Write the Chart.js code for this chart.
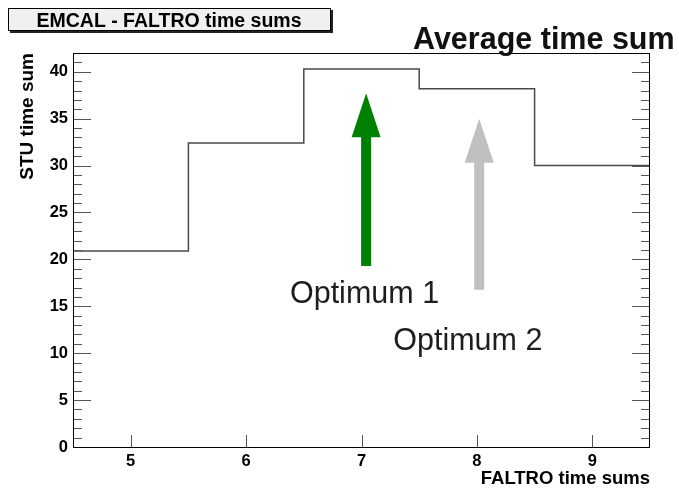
<!DOCTYPE html>
<html>
<head>
<meta charset="utf-8">
<script src="https://cdn.jsdelivr.net/npm/chart.js@4/dist/chart.umd.min.js"></script>
<style>
  html, body { margin: 0; padding: 0; background: #ffffff; }
  #wrap { width: 679px; height: 489px; position: relative; }
  canvas { display: block; }
</style>
</head>
<body>
<div id="wrap"><canvas id="c" width="679" height="489"></canvas></div>
<script>
// ---- data ----
const binEdges = [4.5, 5.5, 6.5, 7.5, 8.5, 9.5];
const binValues = [20.9, 32.4, 40.3, 38.2, 30.0];
const xTickValues = [5, 6, 7, 8, 9];
const yTickValues = [0, 5, 10, 15, 20, 25, 30, 35, 40];
const yMinorStep = 1;
const xRange = [4.5, 9.5];
const yRange = [0, 42];
// arrows (data coordinates)
const arrowLabels = ['Optimum 1', 'Optimum 2'];
const arrowX = [7.04, 8.02];
const arrowFrom = [19.3, 16.75];
const arrowTo = [37.7, 35.0];
const labelX = [6.38, 7.275];
const labelY = [15.4, 10.35];
const chartTitle = 'EMCAL - FALTRO time sums';
const subTitle = 'Average time sum';
const xTitle = 'FALTRO time sums';
const yTitle = 'STU time sum';

const points = binEdges.map((e, i) => ({ x: e, y: binValues[Math.min(i, binValues.length - 1)] }));

const arrowColors = ['#008000', '#c0c0c0'];
const FONT = '"Liberation Sans", Arial, Helvetica, sans-serif';

const decor = {
  id: 'decor',
  afterDatasetsDraw(chart) {
    const ctx = chart.ctx;
    const xs = chart.scales.x, ys = chart.scales.y;
    const a = chart.chartArea;
    ctx.save();
    // minor/major ticks inside frame
    ctx.strokeStyle = '#555555';
    ctx.lineWidth = 1;
    ctx.beginPath();
    for (let v = yRange[0]; v <= yRange[1] + 1e-9; v += yMinorStep) {
      const py = Math.round(ys.getPixelForValue(v)) + 0.5;
      const major = yTickValues.includes(v);
      const len = major ? 18 : 9;
      ctx.moveTo(a.left, py); ctx.lineTo(a.left + len, py);
      ctx.moveTo(a.right, py); ctx.lineTo(a.right - len, py);
    }
    xTickValues.forEach(v => {
      const px = Math.round(xs.getPixelForValue(v)) + 0.5;
      ctx.moveTo(px, a.bottom); ctx.lineTo(px, a.bottom - 12);
    });
    ctx.stroke();
    // frame
    ctx.strokeStyle = '#000000';
    ctx.lineWidth = 1;
    ctx.strokeRect(Math.round(a.left) + 0.5, Math.round(a.top) + 0.5,
      Math.round(a.right - a.left) - 1, Math.round(a.bottom - a.top));
    // arrows
    arrowX.forEach((xv, i) => {
      const px = xs.getPixelForValue(xv);
      const pb = ys.getPixelForValue(arrowFrom[i]);
      const pt = ys.getPixelForValue(arrowTo[i]);
      const headLen = 44, headHalf = 14.5, shaftHalf = 5;
      ctx.fillStyle = arrowColors[i];
      ctx.beginPath();
      ctx.moveTo(px - shaftHalf, pb);
      ctx.lineTo(px - shaftHalf, pt + headLen);
      ctx.lineTo(px - headHalf, pt + headLen);
      ctx.lineTo(px, pt);
      ctx.lineTo(px + headHalf, pt + headLen);
      ctx.lineTo(px + shaftHalf, pt + headLen);
      ctx.lineTo(px + shaftHalf, pb);
      ctx.closePath();
      ctx.fill();
    });
    // arrow labels
    ctx.fillStyle = '#1e1e1e';
    ctx.font = '30.5px ' + FONT;
    ctx.textAlign = 'left';
    ctx.textBaseline = 'alphabetic';
    arrowLabels.forEach((t, i) => {
      ctx.fillText(t, xs.getPixelForValue(labelX[i]), ys.getPixelForValue(labelY[i]));
    });
    ctx.restore();
  },
  afterDraw(chart) {
    const ctx = chart.ctx;
    ctx.save();
    // title box with shadow
    ctx.fillStyle = '#222222';
    ctx.fillRect(10, 10, 323, 23);
    ctx.fillStyle = '#f0f0f0';
    ctx.fillRect(8, 8, 323, 23);
    ctx.strokeStyle = '#000000';
    ctx.lineWidth = 1;
    ctx.strokeRect(8.5, 8.5, 322, 22);
    ctx.fillStyle = '#000000';
    ctx.font = 'bold 19.5px ' + FONT;
    ctx.textAlign = 'center';
    ctx.textBaseline = 'alphabetic';
    ctx.fillText(chartTitle, 169, 27);
    // subtitle
    ctx.font = 'bold 30.5px ' + FONT;
    ctx.textAlign = 'left';
    ctx.fillStyle = '#111111';
    ctx.fillText(subTitle, 413, 49);
    ctx.restore();
  }
};

new Chart(document.getElementById('c'), {
  type: 'line',
  data: {
    datasets: [{
      data: points,
      stepped: 'before',
      borderColor: '#4a4a4a',
      borderWidth: 1.5,
      pointRadius: 0,
      fill: false
    }]
  },
  options: {
    responsive: false,
    animation: false,
    devicePixelRatio: 1,
    layout: { padding: { left: 0, top: 53, right: 29, bottom: 0 } },
    plugins: { legend: { display: false }, tooltip: { enabled: false }, title: { display: false } },
    scales: {
      x: {
        type: 'linear',
        min: xRange[0], max: xRange[1],
        afterFit: s => { s.height = 42; },
        afterBuildTicks: s => { s.ticks = xTickValues.map(v => ({ value: v })); },
        grid: { display: false, drawTicks: false },
        border: { display: false },
        ticks: { padding: 5, color: '#000', font: { family: FONT, size: 16.5, weight: 'bold' }, maxRotation: 0 },
        title: { display: true, text: xTitle, align: 'end', color: '#000',
                 font: { family: FONT, size: 18.5, weight: 'bold' }, padding: { top: 0, bottom: -1 } }
      },
      y: {
        type: 'linear',
        min: yRange[0], max: yRange[1],
        afterFit: s => { s.width = 73; },
        afterBuildTicks: s => { s.ticks = yTickValues.map(v => ({ value: v })); },
        grid: { display: false, drawTicks: false },
        border: { display: false },
        ticks: { padding: 5, color: '#000', font: { family: FONT, size: 16.5, weight: 'bold' } },
        title: { display: true, text: yTitle, align: 'end', color: '#000',
                 font: { family: FONT, size: 19, weight: 'bold' }, padding: { top: 16, bottom: 0 } }
      }
    }
  },
  plugins: [decor]
});
</script>
</body>
</html>
